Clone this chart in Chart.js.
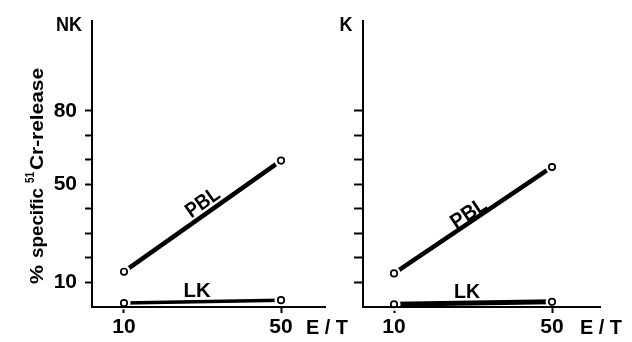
<!DOCTYPE html>
<html>
<head>
<meta charset="utf-8">
<script src="https://cdn.jsdelivr.net/npm/chart.js@4.4.1/dist/chart.umd.min.js"></script>
<style>
  html, body { margin: 0; padding: 0; background: #fff; }
  #wrap { position: relative; width: 632px; height: 342px; }
  canvas { position: absolute; left: 0; top: 0; }
</style>
</head>
<body>
<div id="wrap">
  <canvas id="nk" width="632" height="342"></canvas>
  <canvas id="k" width="632" height="342"></canvas>
</div>
<script>
// E/T ratios and % specific 51Cr-release
const etRatio = [10, 50];
const nkPBL = [14.4, 59.7];
const nkLK = [1.6, 2.8];
const kPBL = [13.7, 57.1];
const kLK = [1.1, 2.1];
const yTicks = [10, 20, 30, 40, 50, 60, 70, 80];
const yTickLabels = [10, 50, 80];
const xTicks = [10, 50];

const FONT = '"Liberation Sans Narrow", "Liberation Sans", Arial, sans-serif';

function pts(ys) {
    return etRatio.map((x, i) => ({ x: x, y: ys[i] }));
}

// squeeze/stretch a text to a given width
function fitText(ctx, text, x, y, w, align) {
    const m = ctx.measureText(text).width;
    ctx.save();
    ctx.translate(x, y);
    ctx.scale(w / m, 1);
    ctx.textAlign = align || 'center';
    ctx.fillText(text, 0, 0);
    ctx.restore();
}

const decor = {
    id: 'decor',
    afterDraw(chart, args, opts) {
        const ctx = chart.ctx;
        const xs = chart.scales.x, ys = chart.scales.y;
        ctx.save();
        ctx.fillStyle = '#000';
        ctx.textBaseline = 'middle';

        // panel name
        ctx.font = 'bold 20px ' + FONT;
        fitText(ctx, opts.name, opts.nameX, 25, opts.nameW);

        // E / T at the end of the x axis
        ctx.font = 'bold 21px ' + FONT;
        fitText(ctx, 'E / T', opts.etX, 328, 42);

        // curve labels
        opts.labels.forEach(l => {
            const px = xs.getPixelForValue(l.x);
            const py = ys.getPixelForValue(l.y);
            let ang = 0;
            if (l.along) {
                const x0 = xs.getPixelForValue(etRatio[0]), x1 = xs.getPixelForValue(etRatio[1]);
                const y0 = ys.getPixelForValue(l.along[0]), y1 = ys.getPixelForValue(l.along[1]);
                ang = Math.atan2(y1 - y0, x1 - x0);
            }
            ctx.save();
            ctx.translate(px, py);
            ctx.rotate(ang);
            ctx.font = 'bold 21px ' + FONT;
            fitText(ctx, l.text, 0, 0, l.w);
            ctx.restore();
        });

        // y axis title
        if (opts.title) {
            ctx.save();
            ctx.translate(43, 284);
            ctx.rotate(-Math.PI / 2);
            ctx.textBaseline = 'alphabetic';
            ctx.font = 'bold 19px ' + FONT;
            fitText(ctx, '%', 0, 0, 19, 'left');
            fitText(ctx, 'specific', 26, 0, 70, 'left');
            fitText(ctx, 'Cr-release', 114, 0, 102, 'left');
            ctx.font = 'bold 12px ' + FONT;
            fitText(ctx, '51', 101, -9, 11, 'left');
            ctx.restore();
        }
        ctx.restore();
    }
};

function makePanel(id, p) {
    const marks = pts(p.pbl).concat(pts(p.lk));
    const tickFont = { family: FONT, size: 21, weight: 'bold' };
    new Chart(document.getElementById(id), {
        type: 'scatter',
        data: {
            datasets: [
                { data: pts(p.pbl), showLine: true, borderColor: '#000', borderWidth: 4.5,
                  pointRadius: 0, order: 3, clip: false },
                { data: pts(p.lk), showLine: true, borderColor: '#000', borderWidth: p.lkWidth,
                  pointRadius: 0, order: 3, clip: false },
                // white halo so the lines stop short of the circles
                { data: marks, pointRadius: 6.5, pointBackgroundColor: '#fff',
                  pointBorderWidth: 0, order: 2, clip: false },
                { data: marks, pointRadius: 3.2, pointBackgroundColor: '#fff',
                  pointBorderColor: '#000', pointBorderWidth: 1.7, order: 1, clip: false }
            ]
        },
        options: {
            responsive: false,
            animation: false,
            devicePixelRatio: 1,
            layout: { padding: { left: 0, top: 15, right: p.padRight, bottom: 0 } },
            plugins: {
                legend: { display: false },
                tooltip: { enabled: false },
                decor: p.decor
            },
            scales: {
                x: {
                    type: 'linear',
                    min: p.xmin,
                    max: p.xmax,
                    afterFit: s => { s.height = 35; },
                    afterBuildTicks: s => { s.ticks = xTicks.map(v => ({ value: v })); },
                    grid: { drawOnChartArea: false, drawTicks: true, tickLength: 6,
                            tickWidth: 2, tickColor: '#000' },
                    border: { display: true, color: '#000', width: 2, z: 1 },
                    ticks: { color: '#000', font: tickFont, padding: 2,
                             autoSkip: false, maxRotation: 0 }
                },
                y: {
                    min: 0,
                    max: 116.8,
                    afterFit: s => { s.width = p.yWidth; },
                    afterBuildTicks: s => { s.ticks = yTicks.map(v => ({ value: v })); },
                    grid: { drawOnChartArea: false, drawTicks: true, tickLength: p.yTickLen,
                            tickWidth: 2, tickColor: '#000' },
                    border: { display: true, color: '#000', width: 2 },
                    ticks: {
                        color: '#000', font: tickFont, padding: 8, autoSkip: false,
                        callback: v => (p.yLabels && yTickLabels.includes(v)) ? String(v) : ''
                    }
                }
            }
        },
        plugins: [decor]
    });
}

makePanel('nk', {
    pbl: nkPBL, lk: nkLK, lkWidth: 3.5,
    xmin: 1.85, xmax: 61.2, yWidth: 92, padRight: 307, yTickLen: 7, yLabels: true,
    decor: {
        name: 'NK', nameX: 69, nameW: 26, etX: 327, title: true,
        labels: [
            { text: 'PBL', x: 30.1, y: 42.4, along: nkPBL, w: 37 },
            { text: 'LK', x: 28.6, y: 6.4, w: 27 }
        ]
    }
});

makePanel('k', {
    pbl: kPBL, lk: kLK, lkWidth: 5,
    xmin: 2.15, xmax: 62.15, yWidth: 363, padRight: 32, yTickLen: 9, yLabels: false,
    decor: {
        name: 'K', nameX: 346, nameW: 13, etX: 601, title: false,
        labels: [
            { text: 'PBL', x: 29, y: 38, along: kPBL, w: 39 },
            { text: 'LK', x: 28.5, y: 6, w: 26 }
        ]
    }
});
</script>
</body>
</html>
